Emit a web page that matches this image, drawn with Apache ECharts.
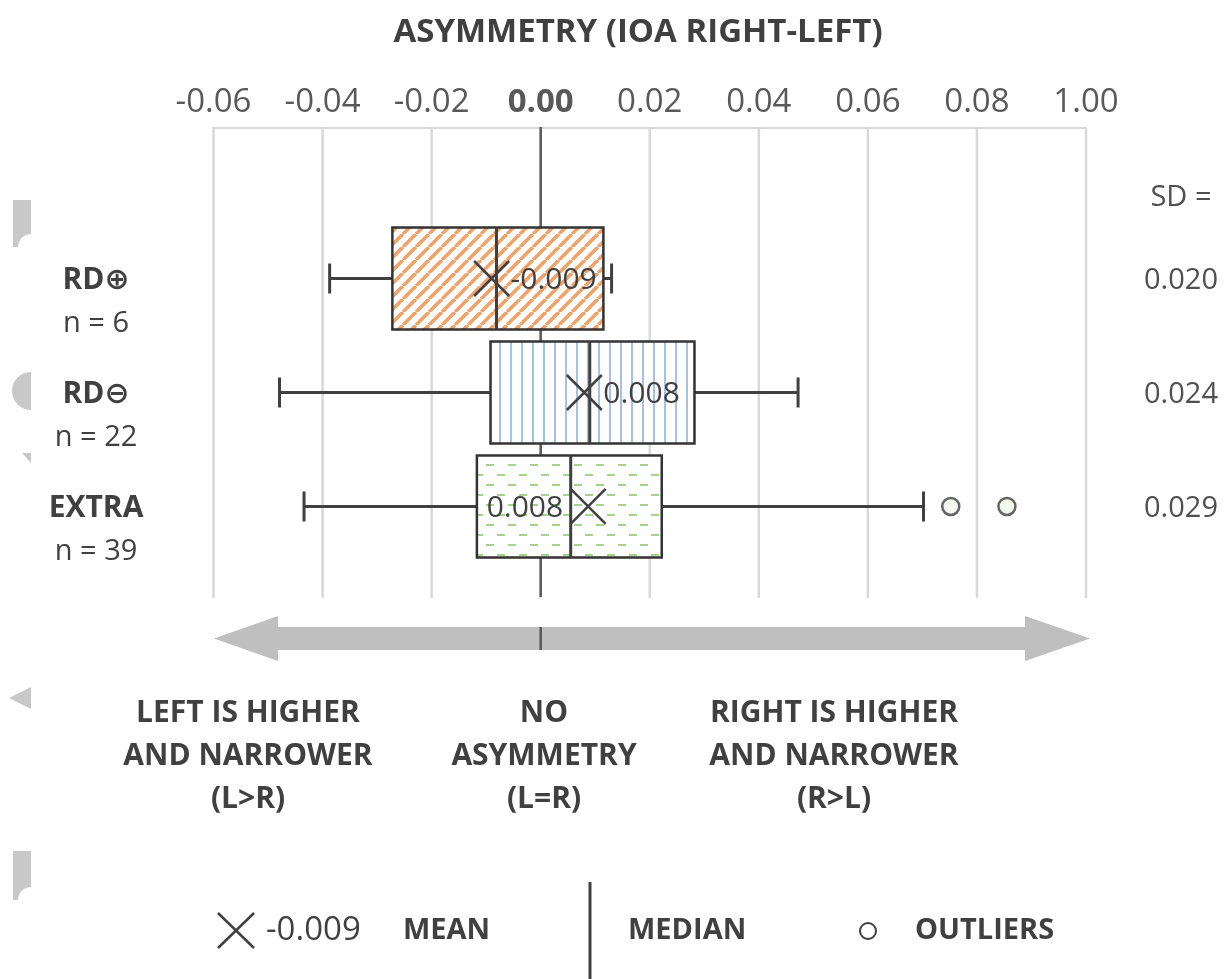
<!DOCTYPE html>
<html><head><meta charset="utf-8">
<script src="https://cdn.jsdelivr.net/npm/echarts@6/dist/echarts.min.js"></script>
<style>html,body{margin:0;padding:0;background:#fff}#c{width:1230px;height:979px}</style>
</head><body><div id="c"></div>
<script>
// ---- data ----
const categories = ['RD⊕', 'RD⊖', 'EXTRA'];
const counts = ['n = 6', 'n = 22', 'n = 39'];
const lowerWhisker = [-0.0387, -0.0479, -0.0434];
const q1 = [-0.0272, -0.0092, -0.0117];
const median = [-0.0081, 0.0090, 0.0055];
const q3 = [0.0115, 0.0282, 0.0222];
const upperWhisker = [0.0130, 0.0472, 0.0702];
const means = [-0.0090, 0.0080, 0.0087];
const meanLabels = ['-0.009', '0.008', '0.008'];
const sdLabels = ['0.020', '0.024', '0.029'];
const outliers = [[0.0752, 2], [0.0855, 2]];
const tickLabels = ['-0.06', '-0.04', '-0.02', '0.00', '0.02', '0.04', '0.06', '0.08', '1.00'];
const referenceValue = 0;
const xMin = -0.06, xMax = 0.10, xStep = 0.02;

// ---- style helpers ----
const FONT = "'Open Sans', 'DejaVu Sans', sans-serif";
const DARK = '#404040';
const HALF_BOX = 51;
const labelSide = ['right', 'right', 'left'];

function makePattern(kind) {
  const c = document.createElement('canvas');
  let w, h;
  if (kind === 'diag') { w = 13; h = 13; }
  else if (kind === 'vert') { w = 11; h = 10; }
  else { w = 22; h = 20; }
  c.width = w; c.height = h;
  const g = c.getContext('2d');
  g.fillStyle = '#fff'; g.fillRect(0, 0, w, h);
  if (kind === 'diag') {
    g.strokeStyle = '#F0A268'; g.lineWidth = 3.6;
    for (let k = -1; k <= 1; k++) {
      g.beginPath(); g.moveTo(k * w, h); g.lineTo(k * w + w, 0); g.stroke();
    }
  } else if (kind === 'vert') {
    g.fillStyle = '#A4C2E6'; g.fillRect(4, 0, 2, h);
  } else {
    g.fillStyle = '#A9D18E';
    g.fillRect(2, 4, 8, 2); g.fillRect(13, 14, 8, 2);
  }
  return { image: c, repeat: 'repeat' };
}
const patterns = [makePattern('diag'), makePattern('vert'), makePattern('dash')];

const boxData = categories.map((c, i) => [i, lowerWhisker[i], q1[i], median[i], q3[i], upperWhisker[i], means[i]]);
const gridValues = tickLabels.map((t, k) => xMin + k * xStep);

// vertical grid / reference lines, drawn in segments that skip the boxes
function segmentsAt(api, cs, x) {
  const segs = [];
  let y = cs.y;
  categories.forEach((c, i) => {
    const yc = api.coord([0, i])[1];
    const lo = api.coord([q1[i], i])[0], hi = api.coord([q3[i], i])[0];
    if (x >= lo - 1 && x <= hi + 1) {
      segs.push([y, yc - HALF_BOX]);
      y = yc + HALF_BOX;
    }
  });
  segs.push([y, cs.y + cs.height]);
  return segs;
}
function renderLines(params, api) {
  const cs = params.coordSys;
  const v = api.value(0);
  const x = api.coord([v, 0])[0];
  const isRef = Math.abs(v - referenceValue) < 1e-9;
  const segs = segmentsAt(api, cs, x);
  const children = segs.map(s => ({ type: 'line', shape: { x1: x, y1: s[0], x2: x, y2: s[1] },
    style: { stroke: '#D9D9D9', lineWidth: 2.5, lineCap: 'round' } }));
  if (isRef) {
    segs.forEach((s, k) => children.push({ type: 'line', shape: { x1: x, y1: k === 0 ? s[0] - 1 : s[0], x2: x, y2: s[1] },
      style: { stroke: '#595959', lineWidth: 2.5 } }));
    children.push({ type: 'line', shape: { x1: x, y1: 627, x2: x, y2: 650 }, style: { stroke: '#595959', lineWidth: 2.5 } });
  }
  return { type: 'group', children };
}

function renderBox(params, api) {
  const i = api.value(0);
  const yc = api.coord([0, i])[1];
  const px = v => api.coord([v, i])[0];
  const xl = px(api.value(1)), x1 = px(api.value(2)), xm = px(api.value(3));
  const x3 = px(api.value(4)), xh = px(api.value(5)), xmean = px(api.value(6));
  const hh = HALF_BOX, cap = 15, s = 17.5;
  const ln = (a, b, c, d, w) => ({ type: 'line', shape: { x1: a, y1: b, x2: c, y2: d }, style: { stroke: DARK, lineWidth: w || 3 } });
  const txt = (x, y, st) => ({ type: 'text', x, y, style: Object.assign({ fontFamily: FONT, verticalAlign: 'middle' }, st) });
  const side = labelSide[i];
  return {
    type: 'group',
    children: [
      ln(xl, yc, x1, yc), ln(xl, yc - cap, xl, yc + cap),
      ln(x3, yc, xh, yc), ln(xh, yc - cap, xh, yc + cap),
      { type: 'rect', shape: { x: x1, y: yc - hh, width: x3 - x1, height: 2 * hh }, style: { fill: '#ffffff' } },
      { type: 'rect', shape: { x: x1, y: yc - hh, width: x3 - x1, height: 2 * hh }, style: { fill: patterns[i], stroke: '#333', lineWidth: 2.5 } },
      ln(xm, yc - hh, xm, yc + hh, 3),
      ln(xmean - s, yc - s, xmean + s, yc + s, 2.5),
      ln(xmean - s, yc + s, xmean + s, yc - s, 2.5),
      txt(side === 'right' ? xmean + 19 : xmean - 25, yc + 2, { text: meanLabels[i], fontSize: 30, fill: DARK, align: side === 'right' ? 'left' : 'right' }),
      txt(96, yc + 2, { text: categories[i], fontSize: 30, fontWeight: 'bold', fill: DARK, align: 'center' }),
      txt(96, yc + 45, { text: counts[i], fontSize: 29, fill: DARK, align: 'center' }),
      txt(1181, yc + 2, { text: sdLabels[i], fontSize: 29, fill: '#505050', align: 'center' })
    ]
  };
}

// decorative fragment shapes along the cropped left edge
function tabShape(top, bottom) {
  const pts = [[13, top], [31, top], [31, bottom - 13]];
  for (let k = 1; k <= 8; k++) {
    const a = -Math.PI / 2 - (k / 8) * (Math.PI / 2);
    pts.push([31 + 13 * Math.cos(a), bottom + 13 * Math.sin(a)]);
  }
  pts.push([13, bottom]);
  return pts;
}
function halfDisk(cx, cy, r) {
  const pts = [];
  for (let k = 0; k <= 16; k++) {
    const a = -Math.PI / 2 - (k / 16) * Math.PI;
    pts.push([cx + r * Math.cos(a), cy + r * Math.sin(a)]);
  }
  return pts;
}

const GRAY = '#C8C8C8';
const chart = echarts.init(document.getElementById('c'), null, { renderer: 'canvas' });
const option = {
  animation: false,
  backgroundColor: '#fff',
  grid: { left: 213.5, right: 144, top: 128, bottom: 382, containLabel: false, outerBoundsMode: 'none' },
  xAxis: {
    type: 'value', position: 'top', min: xMin, max: xMax, interval: xStep,
    axisLine: { show: true, onZero: false, lineStyle: { color: '#D9D9D9', width: 2 } },
    axisTick: { show: false },
    splitLine: { show: false },
    axisLabel: {
      show: true, showMinLabel: true, showMaxLabel: true, hideOverlap: false,
      margin: 9, fontSize: 33, fontFamily: FONT, color: '#595959',
      formatter: v => {
        const t = tickLabels[Math.round((v - xMin) / xStep)];
        return t === '0.00' ? '{b|' + t + '}' : t;
      },
      rich: { b: { fontSize: 33, fontFamily: FONT, fontWeight: 'bold', color: '#595959' } }
    }
  },
  yAxis: {
    type: 'value', min: -1.3202, max: 2.794, inverse: true, show: false,
    axisLine: { show: false, onZero: false }, axisTick: { show: false }, axisLabel: { show: false }, splitLine: { show: false }
  },
  graphic: [
    { type: 'text', x: 638, y: 33, style: { text: 'ASYMMETRY (IOA RIGHT-LEFT)', fontSize: 33, fontWeight: 'bold', fontFamily: FONT, fill: DARK, align: 'center', verticalAlign: 'middle' } },
    { type: 'text', x: 1181, y: 198, style: { text: 'SD =', fontSize: 29, fontFamily: FONT, fill: '#505050', align: 'center', verticalAlign: 'middle' } },
    { type: 'polygon', z: -1, shape: { points: [[214, 638.5], [278, 616], [278, 627], [1025, 627], [1025, 616], [1090, 638.5], [1025, 661], [1025, 650], [278, 650], [278, 661]] }, style: { fill: '#BFBFBF' } },
    { type: 'text', x: 248, y: 692, style: { text: 'LEFT IS HIGHER\nAND NARROWER\n(L>R)', lineHeight: 43, fontSize: 30, fontWeight: 'bold', fontFamily: FONT, fill: DARK, align: 'center', verticalAlign: 'top' } },
    { type: 'text', x: 544, y: 692, style: { text: 'NO\nASYMMETRY\n(L=R)', lineHeight: 43, fontSize: 30, fontWeight: 'bold', fontFamily: FONT, fill: DARK, align: 'center', verticalAlign: 'top' } },
    { type: 'text', x: 834, y: 692, style: { text: 'RIGHT IS HIGHER\nAND NARROWER\n(R>L)', lineHeight: 43, fontSize: 30, fontWeight: 'bold', fontFamily: FONT, fill: DARK, align: 'center', verticalAlign: 'top' } },
    { type: 'line', shape: { x1: 218, y1: 913, x2: 254, y2: 948 }, style: { stroke: DARK, lineWidth: 2.5 } },
    { type: 'line', shape: { x1: 218, y1: 948, x2: 254, y2: 913 }, style: { stroke: DARK, lineWidth: 2.5 } },
    { type: 'text', x: 266, y: 931, style: { text: '-0.009', fontSize: 33, fontFamily: FONT, fill: DARK, align: 'left', verticalAlign: 'middle' } },
    { type: 'text', x: 403, y: 931, style: { text: 'MEAN', fontSize: 29, fontWeight: 'bold', fontFamily: FONT, fill: DARK, align: 'left', verticalAlign: 'middle' } },
    { type: 'line', shape: { x1: 590, y1: 882, x2: 590, y2: 979 }, style: { stroke: DARK, lineWidth: 3 } },
    { type: 'text', x: 628, y: 931, style: { text: 'MEDIAN', fontSize: 29, fontWeight: 'bold', fontFamily: FONT, fill: DARK, align: 'left', verticalAlign: 'middle' } },
    { type: 'circle', shape: { cx: 868, cy: 931, r: 8 }, style: { fill: '#fff', stroke: DARK, lineWidth: 2 } },
    { type: 'text', x: 915, y: 931, style: { text: 'OUTLIERS', fontSize: 29, fontWeight: 'bold', fontFamily: FONT, fill: DARK, align: 'left', verticalAlign: 'middle' } },
    { type: 'polygon', shape: { points: tabShape(200, 247) }, style: { fill: GRAY } },
    { type: 'polygon', shape: { points: halfDisk(31, 391, 19) }, style: { fill: GRAY } },
    { type: 'polygon', shape: { points: [[22, 453], [31, 453], [31, 463]] }, style: { fill: GRAY } },
    { type: 'polygon', shape: { points: [[9, 698], [31, 687], [31, 709]] }, style: { fill: GRAY } },
    { type: 'polygon', shape: { points: tabShape(851, 900) }, style: { fill: GRAY } }
  ],
  series: [
    {
      type: 'custom', z: 1, data: gridValues.map(v => [v]), renderItem: renderLines,
      encode: { x: 0 }, silent: true
    },
    {
      type: 'scatter', z: 2, data: outliers, symbol: 'circle', symbolSize: 17,
      itemStyle: { color: '#F3F6EE', borderColor: DARK, borderWidth: 2.5 }
    },
    {
      type: 'custom', z: 3, data: boxData, renderItem: renderBox,
      encode: { x: [1, 2, 3, 4, 5, 6], y: 0 }
    }
  ]
};
chart.setOption(option);
</script>
</body></html>
